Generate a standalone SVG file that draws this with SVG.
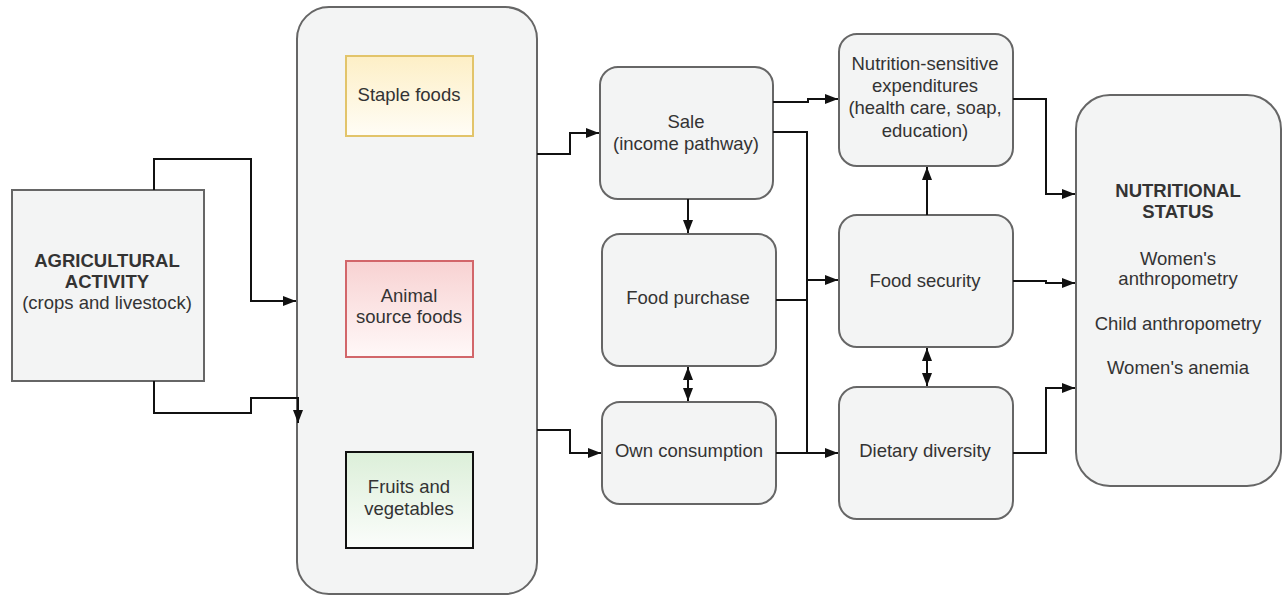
<svg xmlns="http://www.w3.org/2000/svg" width="1282" height="596" viewBox="0 0 1282 596">
<defs>
<marker id="ah" viewBox="0 0 13 10" refX="13" refY="5" markerWidth="13" markerHeight="10" markerUnits="userSpaceOnUse" orient="auto-start-reverse">
<path d="M0,0 L13,5 L0,10 Z" fill="#111"/>
</marker>
<linearGradient id="gY" x1="0" y1="0" x2="0" y2="1"><stop offset="0" stop-color="#fdefc6"/><stop offset="1" stop-color="#fffdf6"/></linearGradient>
<linearGradient id="gR" x1="0" y1="0" x2="0" y2="1"><stop offset="0" stop-color="#f8d2d2"/><stop offset="1" stop-color="#fff8f8"/></linearGradient>
<linearGradient id="gG" x1="0" y1="0" x2="0" y2="1"><stop offset="0" stop-color="#dcefd9"/><stop offset="1" stop-color="#fbfdfb"/></linearGradient>
<style>
.box{fill:#f3f4f4;stroke:#666;stroke-width:2}
.t{font-family:"Liberation Sans",Arial,sans-serif;font-size:18.5px;fill:#333;text-anchor:middle}
.b{font-weight:bold}
.c{fill:none;stroke:#111;stroke-width:2}
</style>
</defs>
<rect width="1282" height="596" fill="#fff"/>

<g id="agricultural-activity">
<rect class="box" x="12" y="190" width="192" height="191"/>
<text class="t b" x="107" y="267">AGRICULTURAL</text>
<text class="t b" x="107" y="288">ACTIVITY</text>
<text class="t" x="107" y="309">(crops and livestock)</text>
</g>

<g id="food-types">
<rect class="box" x="297" y="7" width="240" height="587" rx="32"/>
</g>
<g id="staple-foods">
<rect x="346" y="56" width="127" height="80" fill="url(#gY)" stroke="#e2c46a" stroke-width="2"/>
<text class="t" x="409" y="101">Staple foods</text>
</g>
<g id="animal-source-foods">
<rect x="346" y="261" width="127" height="96" fill="url(#gR)" stroke="#d2666a" stroke-width="2"/>
<text class="t" x="409" y="302">Animal</text>
<text class="t" x="409" y="323">source foods</text>
</g>
<g id="fruits-vegetables">
<rect x="346" y="452" width="127" height="96" fill="url(#gG)" stroke="#111" stroke-width="2"/>
<text class="t" x="409" y="493">Fruits and</text>
<text class="t" x="409" y="515">vegetables</text>
</g>

<g id="sale">
<rect class="box" x="600" y="67" width="173" height="132" rx="18"/>
<text class="t" x="686" y="128">Sale</text>
<text class="t" x="686" y="150">(income pathway)</text>
</g>
<g id="food-purchase">
<rect class="box" x="602" y="234" width="174" height="132" rx="18"/>
<text class="t" x="688" y="304">Food purchase</text>
</g>
<g id="own-consumption">
<rect class="box" x="602" y="402" width="174" height="102" rx="18"/>
<text class="t" x="689" y="457">Own consumption</text>
</g>

<g id="nutrition-sensitive-expenditures">
<rect class="box" x="839" y="34" width="174" height="132" rx="18"/>
<text class="t" x="925" y="70">Nutrition-sensitive</text>
<text class="t" x="925" y="92">expenditures</text>
<text class="t" x="925" y="114">(health care, soap,</text>
<text class="t" x="925" y="137">education)</text>
</g>
<g id="food-security">
<rect class="box" x="839" y="215" width="174" height="132" rx="18"/>
<text class="t" x="925" y="287">Food security</text>
</g>
<g id="dietary-diversity">
<rect class="box" x="839" y="387" width="174" height="132" rx="18"/>
<text class="t" x="925" y="457">Dietary diversity</text>
</g>

<g id="nutritional-status">
<rect class="box" x="1076" y="95" width="205" height="391" rx="34"/>
<text class="t b" x="1178" y="197">NUTRITIONAL</text>
<text class="t b" x="1178" y="218">STATUS</text>
<text class="t" x="1178" y="265">Women's</text>
<text class="t" x="1178" y="285">anthropometry</text>
<text class="t" x="1178" y="330">Child anthropometry</text>
<text class="t" x="1178" y="374">Women's anemia</text>
</g>

<g id="connectors">
<path class="c" d="M154,190 V159 H251 V301 H296" marker-end="url(#ah)"/>
<path class="c" d="M154,381 V413 H251 V398 H298 V423" marker-end="url(#ah)"/>
<path class="c" d="M537,154 H570 V133 H599" marker-end="url(#ah)"/>
<path class="c" d="M537,430 H570 V453 H601" marker-end="url(#ah)"/>
<path class="c" d="M688,199 V233" marker-end="url(#ah)"/>
<path class="c" d="M688,367 V401" marker-start="url(#ah)" marker-end="url(#ah)"/>
<path class="c" d="M773,102 H808 V99 H838" marker-end="url(#ah)"/>
<path class="c" d="M773,132 H807 V453"/>
<path class="c" d="M807,280 H838" marker-end="url(#ah)"/>
<path class="c" d="M776,300 H807"/>
<path class="c" d="M776,453 H838" marker-end="url(#ah)"/>
<path class="c" d="M927,215 V167" marker-end="url(#ah)"/>
<path class="c" d="M927,348 V386" marker-start="url(#ah)" marker-end="url(#ah)"/>
<path class="c" d="M1013,99 H1046 V194 H1075" marker-end="url(#ah)"/>
<path class="c" d="M1013,281 H1046 V283 H1075" marker-end="url(#ah)"/>
<path class="c" d="M1013,453 H1046 V388 H1075" marker-end="url(#ah)"/>
</g>
</svg>
